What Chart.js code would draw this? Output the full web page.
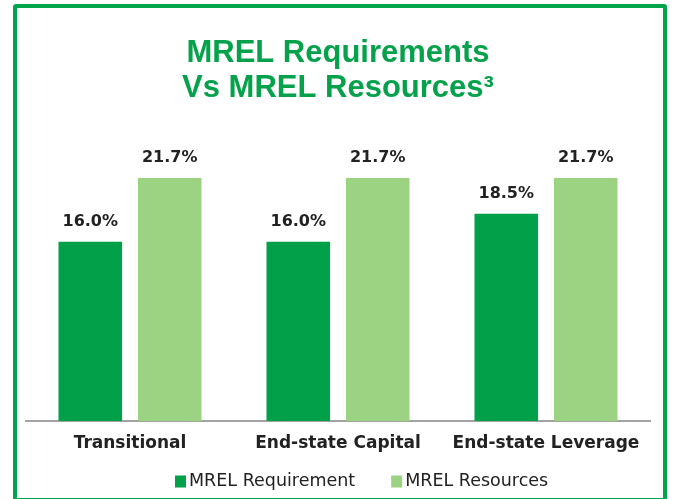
<!DOCTYPE html>
<html>
<head>
<meta charset="utf-8">
<script src="https://cdn.jsdelivr.net/npm/chart.js@4"></script>
<style>
  html, body { margin: 0; padding: 0; background: #fff; }
  #wrap { position: relative; width: 673px; height: 499px; overflow: hidden; }
  #frame { position: absolute; left: 13px; top: 4px; width: 654px; height: 498px; box-sizing: border-box;
           border: 4.5px solid #00a54c; border-radius: 3px; pointer-events: none; }
</style>
</head>
<body>
<div id="wrap">
  <canvas id="myChart" width="673" height="499"></canvas>
  <div id="frame"></div>
</div>
<script>
const categories = ["Transitional", "End-state Capital", "End-state Leverage"];
const requirement = [16.0, 16.0, 18.5];
const resources = [21.7, 21.7, 21.7];
const seriesNames = ["MREL Requirement", "MREL Resources"];
const titleLines = ["MREL Requirements", "Vs MREL Resources\u00B3"];

const darkGreen = "#03a04a";
const lightGreen = "#9cd383";
const textColor = "#222222";

// value labels above each bar
const valueLabels = {
    id: 'valueLabels',
    afterDatasetsDraw(chart) {
        const ctx = chart.ctx;
        ctx.save();
        ctx.font = "bold 16px 'DejaVu Sans'";
        ctx.fillStyle = textColor;
        ctx.textAlign = 'center';
        ctx.textBaseline = 'middle';
        chart.data.datasets.forEach((ds, i) => {
            chart.getDatasetMeta(i).data.forEach((bar, j) => {
                ctx.fillText(ds.data[j].toFixed(1) + '%', bar.x, bar.y - 20);
            });
        });
        ctx.restore();
    }
};

// legend drawn under the axis labels
const bottomLegend = {
    id: 'bottomLegend',
    afterDraw(chart) {
        const ctx = chart.ctx;
        const area = chart.chartArea;
        ctx.save();
        ctx.font = "17.5px 'DejaVu Sans'";
        ctx.textBaseline = 'middle';
        ctx.textAlign = 'left';
        let x = area.left + 149;
        const y = 481.5;
        chart.data.datasets.forEach(ds => {
            ctx.fillStyle = ds.backgroundColor;
            ctx.fillRect(x, y - 6, 11, 12);
            x += 14;
            ctx.fillStyle = textColor;
            ctx.fillText(ds.label, x, y);
            x += ctx.measureText(ds.label).width + 36;
        });
        ctx.restore();
    }
};

const config = {
    type: 'bar',
    data: {
        labels: categories,
        datasets: [{
            label: seriesNames[0],
            data: requirement,
            backgroundColor: darkGreen
        }, {
            label: seriesNames[1],
            data: resources,
            backgroundColor: lightGreen
        }]
    },
    options: {
        responsive: false,
        animation: false,
        categoryPercentage: 0.764,
        barPercentage: 0.8,
        layout: {
            padding: { left: 26, right: 23, top: 0, bottom: 33.6 }
        },
        plugins: {
            legend: { display: false },
            tooltip: { enabled: false },
            title: {
                display: true,
                text: titleLines,
                color: "#06a24b",
                font: { family: "'Liberation Sans', Arial", size: 31, weight: 'bold', lineHeight: '35px' },
                padding: { top: 35.5, bottom: 35.5 }
            }
        },
        scales: {
            y: {
                display: false,
                min: 0,
                max: 25
            },
            x: {
                grid: { display: false, drawTicks: false },
                border: { display: true, color: "#a3a3a3", width: 2 },
                ticks: {
                    padding: 12,
                    color: textColor,
                    font: { family: "'DejaVu Sans'", size: 17, weight: 'bold' }
                }
            }
        }
    },
    plugins: [valueLabels, bottomLegend]
};
new Chart(document.getElementById("myChart"), config);
</script>
</body>
</html>
